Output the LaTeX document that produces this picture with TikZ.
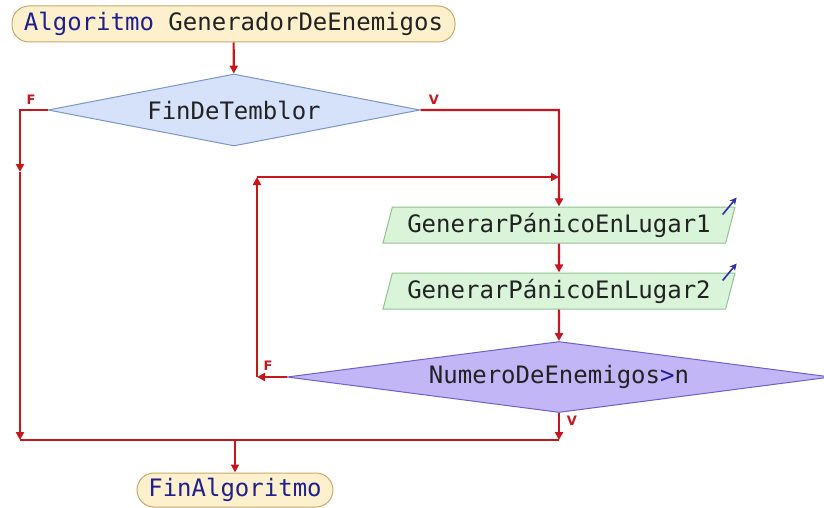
\documentclass[tikz,border=0pt]{standalone}
\usepackage{fontspec}
\newfontfamily\mono{DejaVu Sans Mono}
\newfontfamily\lblfont{DejaVu Sans}
\usetikzlibrary{shapes.geometric,arrows.meta,calc}
\definecolor{linered}{HTML}{C8161D}
\definecolor{termfill}{HTML}{FDF1CD}
\definecolor{termdraw}{HTML}{C9A86B}
\definecolor{dafill}{HTML}{D5E2FA}
\definecolor{dadraw}{HTML}{7C94CC}
\definecolor{iofill}{HTML}{D9F4D9}
\definecolor{iodraw}{HTML}{93C293}
\definecolor{dbfill}{HTML}{C3B6F6}
\definecolor{dbdraw}{HTML}{6E5FC9}
\definecolor{kw}{HTML}{1F1F8F}
\definecolor{outblue}{HTML}{2A35A8}
\definecolor{txt}{HTML}{222222}
\tikzset{
  base/.style={font=\mono\fontsize{24}{28}\selectfont, text=txt, inner sep=0pt, line width=1pt},
  term/.style={base, rounded corners=17pt, fill=termfill, draw=termdraw},
  deca/.style={base, diamond, aspect=5.17, fill=dafill, draw=dadraw},
  decb/.style={base, diamond, aspect=7.66, fill=dbfill, draw=dbdraw},
  iobox/.style={base, trapezium, trapezium left angle=69, trapezium right angle=111,
     trapezium stretches body=true, minimum width=352pt, minimum height=36pt, fill=iofill, draw=iodraw},
  wire/.style={draw=linered, line width=2.2pt},
  flow/.style={wire, -{Triangle[length=8pt,width=8pt]}},
  lbl/.style={font=\lblfont\bfseries\fontsize{13}{14}\selectfont, text=linered, inner sep=0pt},
  outarr/.style={draw=outblue, line width=1.6pt, -{Stealth[length=7pt,width=7pt]}}
}
\begin{document}
\begin{tikzpicture}[x=1pt,y=-1pt]
\useasboundingbox (0,0) rectangle (824,508);
\clip (0,0) rectangle (824,508);
\node[term, minimum width=443pt, minimum height=36pt] (start) at (233.5,24) {{\color{kw}Algoritmo} GeneradorDeEnemigos};
\node[deca, minimum width=372pt, minimum height=72pt] (d1) at (234,110) {FinDeTemblor};
\node[iobox] (p1) at (559,225) {GenerarPánicoEnLugar1};
\node[iobox] (p2) at (559,291) {GenerarPánicoEnLugar2};
\node[decb, minimum width=544pt, minimum height=71pt] (d2) at (559,377) {NumeroDeEnemigos{\color{kw}>}n};
\node[term, minimum width=196pt, minimum height=34pt] (end) at (235,490) {{\color{kw}FinAlgoritmo}};

\coordinate (fL) at (20,110);
\coordinate (fM) at (20,172);
\coordinate (join) at (20,440);
\coordinate (vR) at (559,110);
\coordinate (loopTR) at (559,177);
\coordinate (loopTL) at (257,177);
\coordinate (loopBL) at (257,377);
\coordinate (vJ) at (559,440);
\coordinate (eJ) at (235,440);

\draw[flow] (start) -- (d1);
\draw[flow] (d1.west) -- (fL) -- (fM);
\draw[flow] (fM) -- (join);
\draw[flow] (d1.east) -- (vR) -- (p1.north);
\draw[flow] (d2.west) -- (loopBL);
\draw[flow] (loopBL) -- (loopTL);
\draw[flow] (loopTL) -- (loopTR);
\draw[flow] (p1) -- (p2);
\draw[flow] (p2) -- (d2);
\draw[flow] (d2.south) -- (vJ);
\draw[wire] (vJ) -- (join);
\draw[flow] (eJ) -- (end);

\node[lbl] (lf1) at (31,100) {F};
\node[lbl] (lv1) at (434,100) {V};
\node[lbl] (lf2) at (268,366) {F};
\node[lbl] (lv2) at (572,421) {V};

\coordinate (o1a) at ($(p1.top right corner)+(-13,8)$);
\coordinate (o1b) at ($(p1.top right corner)+(1,-9)$);
\coordinate (o2a) at ($(p2.top right corner)+(-13,8)$);
\coordinate (o2b) at ($(p2.top right corner)+(1,-9)$);
\draw[outarr] (o1a) -- (o1b);
\draw[outarr] (o2a) -- (o2b);
\end{tikzpicture}
\end{document}
